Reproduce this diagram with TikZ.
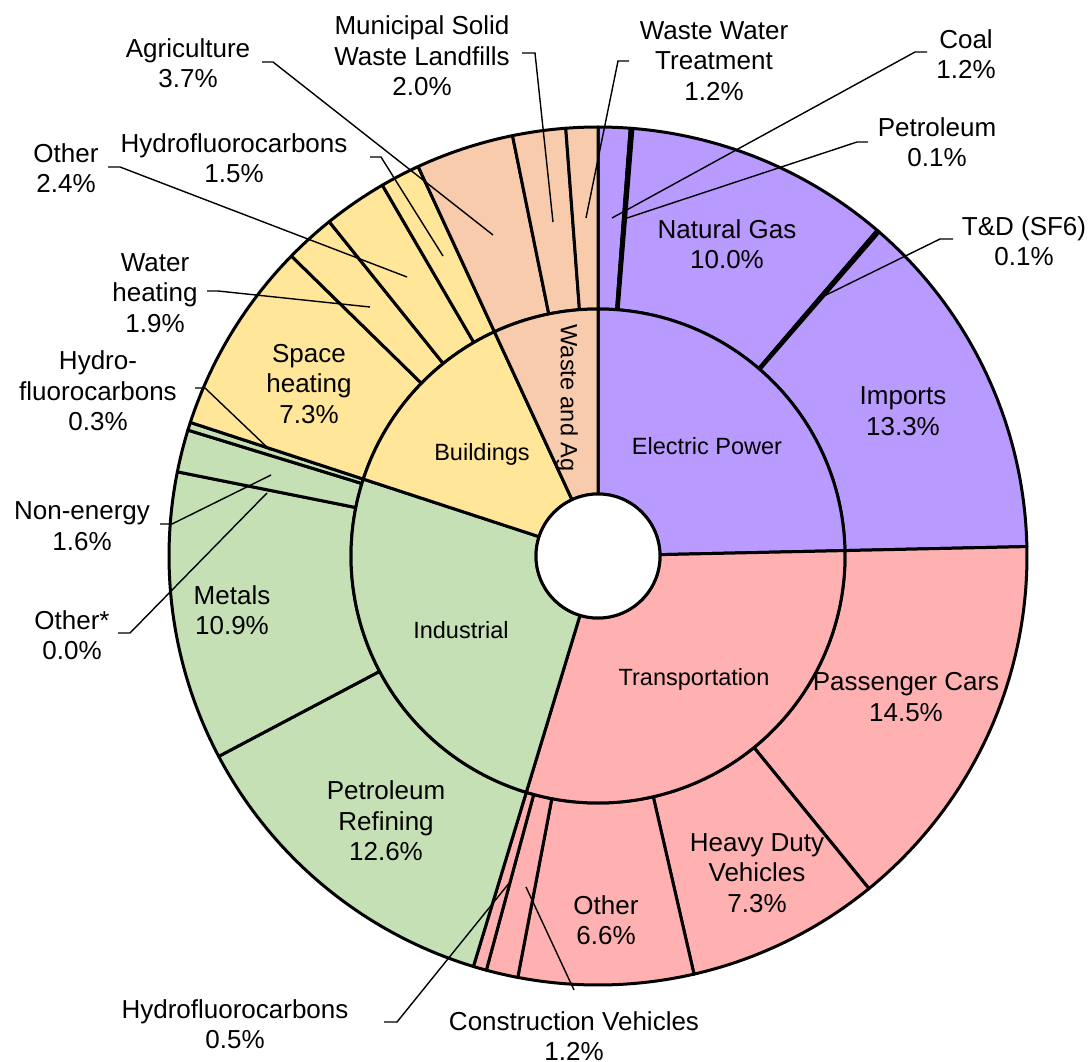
\documentclass[tikz,border=0pt]{standalone}
\usepackage{fontspec}
\setmainfont{Liberation Sans}
\definecolor{cElec}{HTML}{B99AFF}
\definecolor{cTrans}{HTML}{FFB1B1}
\definecolor{cInd}{HTML}{C5E0B4}
\definecolor{cBldg}{HTML}{FFE699}
\definecolor{cWaste}{HTML}{F8CBAD}
\tikzset{
  seg/.style={draw=black, line width=3pt, line join=round},
  leader/.style={draw=black, line width=1.4pt},
  lbl/.style={align=center, font=\fontsize{26}{30.5}\selectfont, inner sep=0pt},
  ilbl/.style={align=center, font=\fontsize{23.5}{28}\selectfont, inner sep=0pt},
}
\newcommand{\wedgeP}[5]{%
  \pgfmathsetmacro{\wpA}{90-#1*3.592814}%
  \pgfmathsetmacro{\wpB}{90-#2*3.592814}%
  \filldraw[seg, fill=#5] (\wpA:#3) arc[start angle=\wpA, end angle=\wpB, radius=#3] -- (\wpB:#4) arc[start angle=\wpB, end angle=\wpA, radius=#4] -- cycle;
}
\begin{document}
\begin{tikzpicture}[x=1pt,y=1pt]
\useasboundingbox (0,0) rectangle (1092,-1062);
\begin{scope}[shift={(598,-556)}]
  % outer ring
  \wedgeP{0}{1.2}{247}{429}{cElec}
  \wedgeP{1.2}{1.3}{247}{429}{cElec}
  \wedgeP{1.3}{11.3}{247}{429}{cElec}
  \wedgeP{11.3}{11.4}{247}{429}{cElec}
  \wedgeP{11.4}{24.7}{247}{429}{cElec}
  \wedgeP{24.7}{39.2}{247}{429}{cTrans}
  \wedgeP{39.2}{46.5}{247}{429}{cTrans}
  \wedgeP{46.5}{53.1}{247}{429}{cTrans}
  \wedgeP{53.1}{54.3}{247}{429}{cTrans}
  \wedgeP{54.3}{54.8}{247}{429}{cTrans}
  \wedgeP{54.8}{67.4}{247}{429}{cInd}
  \wedgeP{67.4}{78.3}{247}{429}{cInd}
  \wedgeP{78.3}{79.9}{247}{429}{cInd}
  \wedgeP{79.9}{80.2}{247}{429}{cInd}
  \wedgeP{80.2}{87.5}{247}{429}{cBldg}
  \wedgeP{87.5}{89.4}{247}{429}{cBldg}
  \wedgeP{89.4}{91.8}{247}{429}{cBldg}
  \wedgeP{91.8}{93.3}{247}{429}{cBldg}
  \wedgeP{93.3}{97.0}{247}{429}{cWaste}
  \wedgeP{97.0}{99.0}{247}{429}{cWaste}
  \wedgeP{99.0}{100.2}{247}{429}{cWaste}
  % inner ring
  \wedgeP{0}{24.7}{62}{247}{cElec}
  \wedgeP{24.7}{54.8}{62}{247}{cTrans}
  \wedgeP{54.8}{80.2}{62}{247}{cInd}
  \wedgeP{80.2}{93.3}{62}{247}{cBldg}
  \wedgeP{93.3}{100.2}{62}{247}{cWaste}
  \filldraw[seg, fill=white] (0,0) circle[radius=62];
\end{scope}

% inner labels
\node[ilbl] (iElec) at (707,-446) {Electric Power};
\node[ilbl] (iTrans) at (694,-679) {Transportation};
\node[ilbl] (iInd) at (461,-630) {Industrial};
\node[ilbl] (iBldg) at (482,-454) {Buildings};
\node[ilbl, rotate=-90] (iWaste) at (567,-398) {Waste and Ag};

% labels inside sectors
\node[lbl] (lNG) at (727,-244) {Natural Gas\\10.0\%};
\node[lbl] (lImp) at (903,-411) {Imports\\13.3\%};
\node[lbl] (lPC) at (906,-697) {Passenger Cars\\14.5\%};
\node[lbl] (lHD) at (757,-873) {Heavy Duty\\Vehicles\\7.3\%};
\node[lbl] (lOthT) at (606,-920) {Other\\6.6\%};
\node[lbl] (lRef) at (386,-821) {Petroleum\\Refining\\12.6\%};
\node[lbl] (lMet) at (232,-610) {Metals\\10.9\%};
\node[lbl] (lSH) at (309,-384) {Space\\heating\\7.3\%};

% outside labels
\node[lbl] (lAgri) at (188,-63) {Agriculture\\3.7\%};
\node[lbl] (lMSW) at (422,-56) {Municipal Solid\\Waste Landfills\\2.0\%};
\node[lbl] (lWWT) at (714,-61) {Waste Water\\Treatment\\1.2\%};
\node[lbl] (lCoal) at (966,-54) {Coal\\1.2\%};
\node[lbl] (lPet) at (937,-142) {Petroleum\\0.1\%};
\node[lbl] (lTD) at (1024,-241) {T\&D (SF6)\\0.1\%};
\node[lbl] (lCV) at (574,-1036) {Construction Vehicles\\1.2\%};
\node[lbl] (lHFCt) at (235,-1024) {Hydrofluorocarbons\\0.5\%};
\node[lbl] (lHFCi) at (98,-391) {Hydro-\\fluorocarbons\\0.3\%};
\node[lbl] (lNE) at (82,-526) {Non-energy\\1.6\%};
\node[lbl] (lOthI) at (72,-635) {Other*\\0.0\%};
\node[lbl] (lWH) at (155,-293) {Water\\heating\\1.9\%};
\node[lbl] (lOthB) at (66,-168) {Other\\2.4\%};
\node[lbl] (lHFCb) at (234,-158) {Hydrofluorocarbons\\1.5\%};

% leader coordinates
\coordinate (agA) at (262,-62);  \coordinate (agB) at (273,-62);  \coordinate (agC) at (493,-235);
\coordinate (msA) at (522,-53);  \coordinate (msB) at (535,-53);  \coordinate (msC) at (553,-222);
\coordinate (wwA) at (629,-61);  \coordinate (wwB) at (618,-61);  \coordinate (wwC) at (586,-218);
\coordinate (coA) at (927,-52);  \coordinate (coB) at (915,-52);  \coordinate (coC) at (612,-218);
\coordinate (peA) at (868,-142); \coordinate (peB) at (857,-142); \coordinate (peC) at (627,-218);
\coordinate (tdA) at (953,-239); \coordinate (tdB) at (940,-239); \coordinate (tdC) at (822,-297);
\coordinate (cvA) at (574,-990); \coordinate (cvC) at (526,-887);
\coordinate (htA) at (384,-1022); \coordinate (htB) at (397,-1022); \coordinate (htC) at (510,-882);
\coordinate (hiA) at (195,-388); \coordinate (hiB) at (205,-388); \coordinate (hiC) at (270,-450);
\coordinate (neA) at (160,-524); \coordinate (neB) at (172,-524); \coordinate (neC) at (271,-475);
\coordinate (oiA) at (118,-633); \coordinate (oiB) at (130,-633); \coordinate (oiC) at (267,-493);
\coordinate (whA) at (207,-291); \coordinate (whB) at (218,-291); \coordinate (whC) at (370,-307);
\coordinate (obA) at (108,-167); \coordinate (obB) at (120,-167); \coordinate (obC) at (407,-277);
\coordinate (hbA) at (370,-157); \coordinate (hbB) at (381,-157); \coordinate (hbC) at (443,-256);

\draw[leader] (agA) -- (agB) -- (agC);
\draw[leader] (msA) -- (msB) -- (msC);
\draw[leader] (wwA) -- (wwB) -- (wwC);
\draw[leader] (coA) -- (coB) -- (coC);
\draw[leader] (peA) -- (peB) -- (peC);
\draw[leader] (tdA) -- (tdB) -- (tdC);
\draw[leader] (cvA) -- (cvC);
\draw[leader] (htA) -- (htB) -- (htC);
\draw[leader] (hiA) -- (hiB) -- (hiC);
\draw[leader] (neA) -- (neB) -- (neC);
\draw[leader] (oiA) -- (oiB) -- (oiC);
\draw[leader] (whA) -- (whB) -- (whC);
\draw[leader] (obA) -- (obB) -- (obC);
\draw[leader] (hbA) -- (hbB) -- (hbC);
\end{tikzpicture}
\end{document}
